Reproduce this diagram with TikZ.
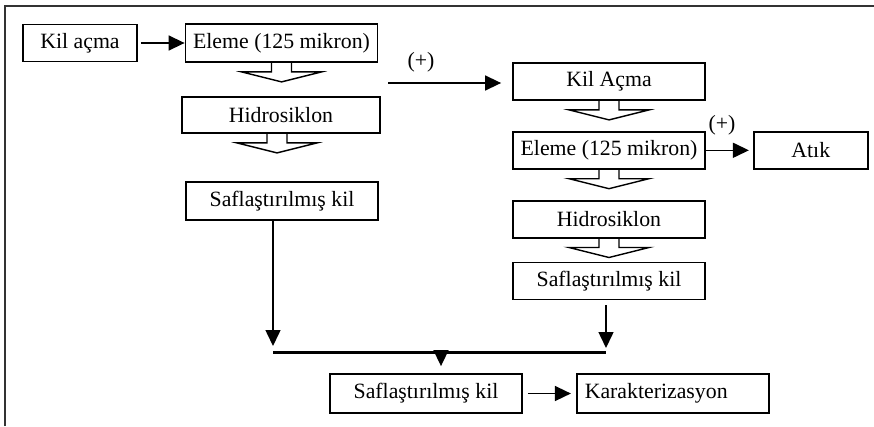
\documentclass[tikz,border=0pt]{standalone}
\usepackage{fontspec}
\setmainfont{Liberation Serif}
\usepackage{tikz}
\usetikzlibrary{calc,positioning,arrows.meta}
\newcommand{\flowfont}{\fontsize{21.8}{24}\selectfont}
\tikzset{
    procbox/.style={
        draw,
        line width=1.8pt,
        minimum width=192pt,
        minimum height=37pt,
        inner sep=2pt,
        font=\flowfont
    },
    flow/.style={
        line width=1.5pt,
        -{Triangle[length=16pt,width=15pt]}
    }
}
% hollow block arrow below a box: [xshift]{node}
\newcommand{\hollowdown}[2][0]{%
    \draw[line width=1.4pt] ($(#2.south)+(#1-10,0)$) -- ++(0,9) -- ++(-30,0)
        -- ++(40,10) -- ++(40,-10) -- ++(-30,0) -- ++(0,-9);
}

\begin{document}
\begin{tikzpicture}[x=1pt,y=-1pt]
        \useasboundingbox (0,0) rectangle (874,426);
        \draw[line width=1.6pt,black!80] (5,426) -- (5,6) -- (874,6);

        % left branch
        \node[procbox, minimum width=114pt] (kilacma) at (80,43) {Kil açma};
        \node[procbox, minimum height=38pt] (eleme1) at (281.5,43) {Eleme (125 mikron)};
        \node[procbox, minimum width=198pt, minimum height=36pt] (hidro1) at (281,115) {Hidrosiklon};
        \node[procbox, minimum height=38pt] (saf1) at (282,201) {Saflaştırılmış kil};

        % right branch
        \node[procbox] (kilacma2) at (609,81.5) {Kil Açma};
        \node[procbox, below=30pt of kilacma2] (eleme2) {Eleme (125 mikron)};
        \node[procbox, right=47pt of eleme2, minimum width=114pt] (atik) {Atık};
        \node[procbox, below=30pt of eleme2] (hidro2) {Hidrosiklon};
        \node[procbox, below=23pt of hidro2] (saf2) {Saflaştırılmış kil};

        % bottom
        \node[procbox, minimum height=39pt] (saf3) at (426,393.5) {Saflaştırılmış kil};
        \node[procbox, minimum height=39pt, right=53pt of saf3, text width=176pt, align=left, inner xsep=8pt] (karak) {Karakterizasyon};

        \node[font=\flowfont] (plus1) at (421,62) {(+)};
        \node[font=\flowfont] (plus2) at (722,125) {(+)};

        \coordinate (split) at (388,83);
        \coordinate (busL) at (273,352);
        \coordinate (busM) at (441,352);
        \coordinate (busR) at (606,352);

        \draw[flow, shorten <=3pt] (kilacma) -- (eleme1);
        \draw[flow, shorten >=11pt] (split) -- (split -| kilacma2.west);
        \draw[flow, shorten >=4pt] (eleme2) -- (atik);
        \draw[flow, shorten <=5pt, shorten >=5pt] (saf3) -- (karak);

        \hollowdown{eleme1}
        \hollowdown[-4]{hidro1}
        \hollowdown{kilacma2}
        \hollowdown{eleme2}
        \hollowdown{hidro2}

        \draw[flow, shorten >=6pt] (saf1.south -| busL) -- (busL);
        \draw[flow, shorten <=5pt, shorten >=4pt] (saf2.south -| busR) -- (busR);
        \draw[line width=3pt] (busL) -- (busR);
        \draw[flow, shorten >=7pt] (busM) -- (saf3.north -| busM);

\end{tikzpicture}
\end{document}
